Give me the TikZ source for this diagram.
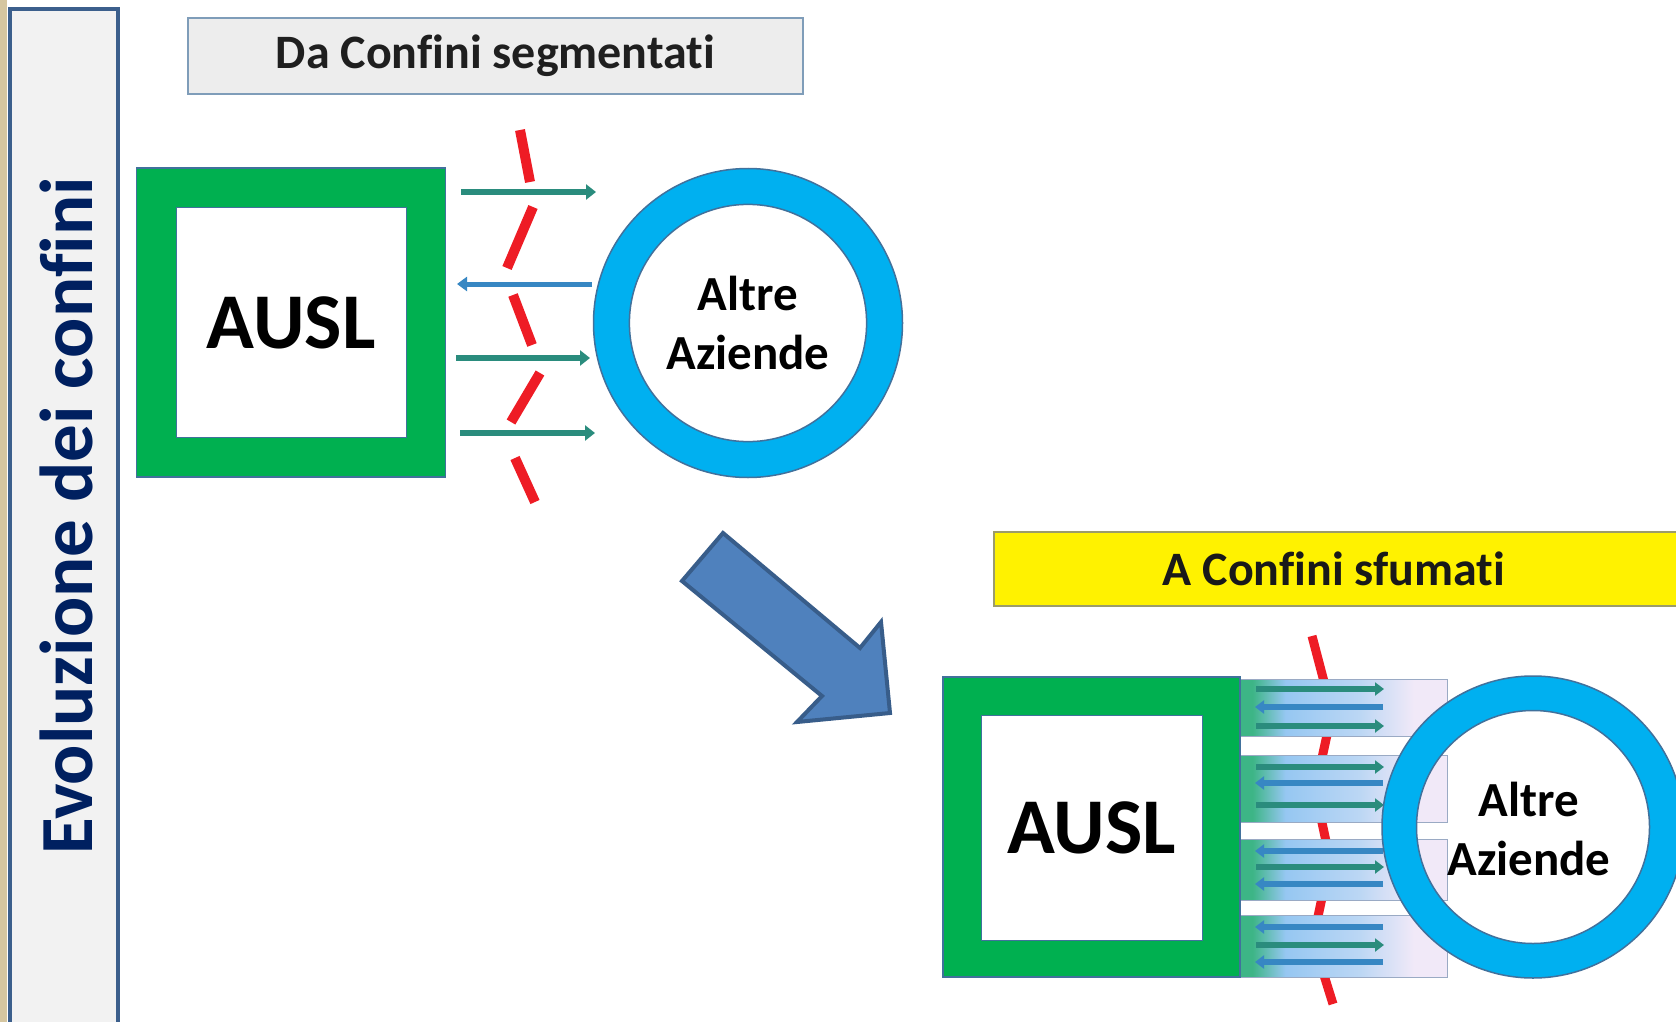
\documentclass[tikz,border=0pt]{standalone}
\usepackage{fontspec}
\setmainfont{Carlito}[Ligatures={NoCommon,NoContextual}]
\usetikzlibrary{arrows.meta}

\definecolor{auslgreen}{HTML}{00B050}
\definecolor{shapeedge}{HTML}{41719C}
\definecolor{ringblue}{HTML}{00B0F0}
\definecolor{flowteal}{HTML}{2A8C7D}
\definecolor{flowblue}{HTML}{3787C3}
\definecolor{sidenavy}{HTML}{002060}
\definecolor{bigfill}{HTML}{4F81BD}
\definecolor{bigedge}{HTML}{385D8A}
\definecolor{barred}{HTML}{EE1C25}
\definecolor{framefill}{HTML}{F2F2F2}
\definecolor{frameedge}{HTML}{3C5F8C}
\definecolor{sandstrip}{HTML}{D5C6A0}
\definecolor{graytitle}{HTML}{EDEDED}
\definecolor{graytitleedge}{HTML}{7F9DB9}
\definecolor{yellowedge}{HTML}{9C9C6A}
\definecolor{bandedge}{HTML}{9AAAC4}
\definecolor{bandgreen}{HTML}{3DB586}
\definecolor{bandblue}{HTML}{96C7F2}
\definecolor{bandpale}{HTML}{BCD7F4}
\definecolor{bandwhite}{HTML}{F1E9F8}

% green edge, blue body, lavender end (path spans 25bp..75bp)
\pgfdeclarehorizontalshading{bandshade}{100bp}{
  color(0bp)=(bandgreen); color(25bp)=(bandgreen); color(28bp)=(bandgreen);
  color(36bp)=(bandblue); color(54bp)=(bandpale); color(67bp)=(bandwhite);
  color(100bp)=(bandwhite)}

\tikzset{
  titlebox/.style={draw, line width=1.5pt, inner sep=0pt,
    font=\bfseries\fontsize{48}{56}\selectfont, text=black!88},
  auslouter/.style={fill=auslgreen, draw=shapeedge, line width=1.5pt, inner sep=0pt},
  auslinner/.style={fill=white, draw=shapeedge, line width=1pt, inner sep=0pt,
    font=\bfseries\fontsize{79}{90}\selectfont},
  ringtext/.style={align=center, font=\bfseries\fontsize{49}{59}\selectfont},
  flowright/.style={draw=flowteal, line width=6pt,
    -{Triangle[length=10pt,width=15pt]}},
  flowleft/.style={draw=flowblue, line width=5pt,
    -{Triangle[length=10pt,width=14pt]}},
  bandflowright/.style={draw=flowteal, line width=5.5pt,
    -{Triangle[length=9pt,width=13pt]}},
  bandflowleft/.style={draw=flowblue, line width=5.5pt,
    -{Triangle[length=9pt,width=13pt]}},
  barrier/.style={draw=barred, line width=10pt},
  band/.style={draw=bandedge, line width=1pt, shading=bandshade},
}

\begin{document}
\begin{tikzpicture}[x=1pt, y=-1pt]
  \clip (0,0) rectangle (1676,1022);
  \fill[white] (0,0) rectangle (1676,1022);

  % side strip and vertical title
  \fill[sandstrip] (0,0) rectangle (7,1022);
  \draw[fill=framefill, draw=frameedge, line width=3.5pt] (10,9) rectangle (118,1040);
  \node[rotate=90, text=sidenavy, inner sep=0pt,
    font=\bfseries\fontsize{75}{80}\selectfont] (sidetitle) at (66,516) {Evoluzione dei conf\kern0pt i\kern0pt ni};

  % ---------- segmented boundaries ----------
  \node[titlebox, fill=graytitle, draw=graytitleedge,
    minimum width=615pt, minimum height=76pt] (titleA) at (495.5,56) {Da Conf\kern0pt ini segmentat\kern0pt i};

  \node[auslouter, minimum size=309pt] (auslA) at (291,322.5) {};
  \node[auslinner, minimum size=230pt] (auslAin) at (291,322.5) {AUSL};

  \coordinate (ringA) at (748,323);
  \fill[ringblue, even odd rule] (ringA) circle[radius=154.5] (ringA) circle[radius=118.6];
  \draw[shapeedge, line width=1.5pt] (ringA) circle[radius=154.5] (ringA) circle[radius=118.6];
  \node[ringtext] (ringAtext) at (ringA) {Altre\\Aziende};

  % flows between the two organisations
  \coordinate (a1s) at (461,192); \coordinate (a1e) at (596,192);
  \coordinate (a2s) at (592,284); \coordinate (a2e) at (457,284);
  \coordinate (a3s) at (456,358); \coordinate (a3e) at (590,358);
  \coordinate (a4s) at (460,433); \coordinate (a4e) at (595,433);
  \draw[flowright] (a1s) -- (a1e);
  \draw[flowleft]  (a2s) -- (a2e);
  \draw[flowright] (a3s) -- (a3e);
  \draw[flowright] (a4s) -- (a4e);

  % broken red boundary line
  \draw[barrier] (520,130) -- (530,182);
  \draw[barrier] (533,207) -- (507,268);
  \draw[barrier] (513,295) -- (532,345);
  \draw[barrier] (540,373) -- (511,422);
  \draw[barrier] (515,458) -- (535,502);

  % ---------- transition arrow ----------
  \draw[fill=bigfill, draw=bigedge, line width=4pt, line join=miter]
    (723,533) -- (682,581) -- (822,696) -- (797,722) -- (890,713)
    -- (881,622) -- (860,648) -- cycle;

  % ---------- blurred boundaries ----------
  \node[titlebox, fill=yellow, draw=yellowedge, anchor=north west,
    minimum width=686pt, minimum height=74pt] (titleB) at (993,531) {};
  \node[font=\bfseries\fontsize{48}{56}\selectfont, text=black!90] (titleBtext) at (1334,569) {A Conf\kern0pt ini sfumat\kern0pt i};

  % red line behind the exchange bands
  \draw[barrier, line width=9pt, line join=miter]
    (1312,636) -- (1332,712) -- (1315,790) -- (1330,860) -- (1313,940) -- (1333,1004);

  \draw[band] (1240,679) rectangle (1447,736);
  \draw[band] (1240,755) rectangle (1447,822);
  \draw[band] (1240,839) rectangle (1447,900);
  \draw[band] (1240,915) rectangle (1447,977);

  \foreach \y in {689,726,767,805,867,945}
    \draw[bandflowright] (1256,\y) -- (1384,\y);
  \foreach \y in {707,783,851,884,927,962}
    \draw[bandflowleft] (1383,\y) -- (1255,\y);

  \node[auslouter, minimum width=297pt, minimum height=300pt] (auslB) at (1091.5,827) {};
  \node[auslinner, minimum width=221pt, minimum height=225pt] (auslBin) at (1091.5,827.5) {AUSL};

  \coordinate (ringB) at (1533,827);
  \fill[ringblue, even odd rule] (ringB) circle[radius=151] (ringB) circle[radius=116.5];
  \draw[shapeedge, line width=1.5pt] (ringB) circle[radius=151] (ringB) circle[radius=116.5];
  \node[ringtext] (ringBtext) at (1529,828.5) {Altre\\Aziende};
\end{tikzpicture}
\end{document}
